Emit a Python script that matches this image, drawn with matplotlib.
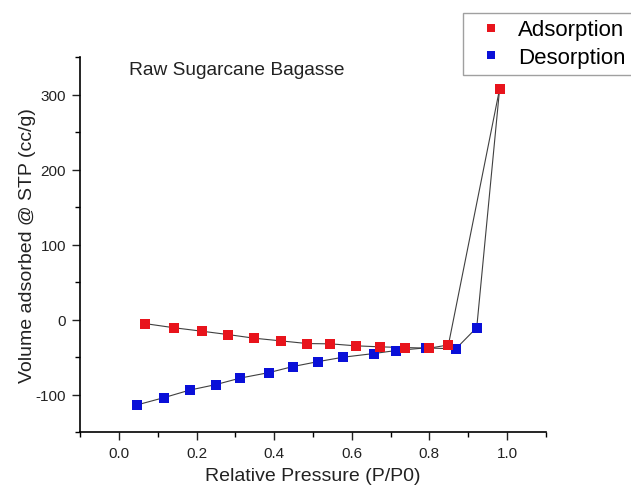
import matplotlib.pyplot as plt
from matplotlib.ticker import MultipleLocator

plt.rcParams['font.family'] = ['Liberation Sans', 'DejaVu Sans']
plt.rcParams['axes.unicode_minus'] = False

# Adsorption branch
ads_p = [0.066, 0.143, 0.215, 0.281, 0.349, 0.417, 0.485, 0.545, 0.610,
         0.673, 0.736, 0.800, 0.849, 0.981]
ads_v = [-5.3, -11, -15.6, -20, -24.9, -28.4, -32, -32.4, -35,
         -36.4, -37.3, -38.2, -33.8, 308]

# Desorption branch
des_p = [0.047, 0.117, 0.183, 0.250, 0.313, 0.387, 0.448, 0.514, 0.578,
         0.657, 0.714, 0.790, 0.868, 0.922, 0.981]
des_v = [-113.8, -104, -94, -86.7, -78, -70.7, -62.7, -56, -50.2,
         -45.3, -41.3, -37.8, -39.1, -10.7, 308]

fig = plt.figure(figsize=(6.31, 4.89), dpi=100)
ax = fig.add_axes([0.127, 0.1145, 0.738, 0.7665])

line_kw = dict(color='#404040', linewidth=0.8, zorder=1)
ax.plot(des_p, des_v, **line_kw)
ax.plot(ads_p, ads_v, **line_kw)
ax.plot(des_p, des_v, 's', color='#0a10d8', markersize=6.5,
        markeredgewidth=0, label='Desorption', zorder=2)
ax.plot(ads_p, ads_v, 's', color='#e8141c', markersize=6.5,
        markeredgewidth=0, label='Adsorption', zorder=3)

ax.set_xlim(-0.1, 1.1)
ax.set_ylim(-150, 350)
ax.xaxis.set_major_locator(MultipleLocator(0.2))
ax.xaxis.set_minor_locator(MultipleLocator(0.1))
ax.yaxis.set_major_locator(MultipleLocator(100))
ax.yaxis.set_minor_locator(MultipleLocator(50))
ax.tick_params(which='major', direction='out', length=6, width=1,
               labelsize=11, colors='#222222', pad=4)
ax.tick_params(which='minor', direction='out', length=3.5, width=1)
ax.set_xticks([0.0, 0.2, 0.4, 0.6, 0.8, 1.0])
ax.set_xticklabels(['0.0', '0.2', '0.4', '0.6', '0.8', '1.0'])

for s in ['top', 'right']:
    ax.spines[s].set_visible(False)
for s in ['left', 'bottom']:
    ax.spines[s].set_linewidth(1.2)

ax.set_xlabel('Relative Pressure (P/P0)', fontsize=14, color='#222222',
              labelpad=5)
ax.set_ylabel('Volume adsorbed @ STP (cc/g)', fontsize=14, color='#222222',
              labelpad=0)
ax.text(0.105, 0.968, 'Raw Sugarcane Bagasse', transform=ax.transAxes,
        fontsize=13.8, color='#222222', va='center')

handles, labels = ax.get_legend_handles_labels()
leg = fig.legend(handles[::-1], labels[::-1], loc='upper left',
                 bbox_to_anchor=(0.733, 0.972), fontsize=16,
                 frameon=True, fancybox=False, handlelength=2.0,
                 handletextpad=0.2, borderpad=0.3, labelspacing=0.3,
                 markerscale=0.8, borderaxespad=0)
leg.get_frame().set_edgecolor('#888888')
leg.get_frame().set_linewidth(1.0)

fig.savefig('out.png', dpi=100)
